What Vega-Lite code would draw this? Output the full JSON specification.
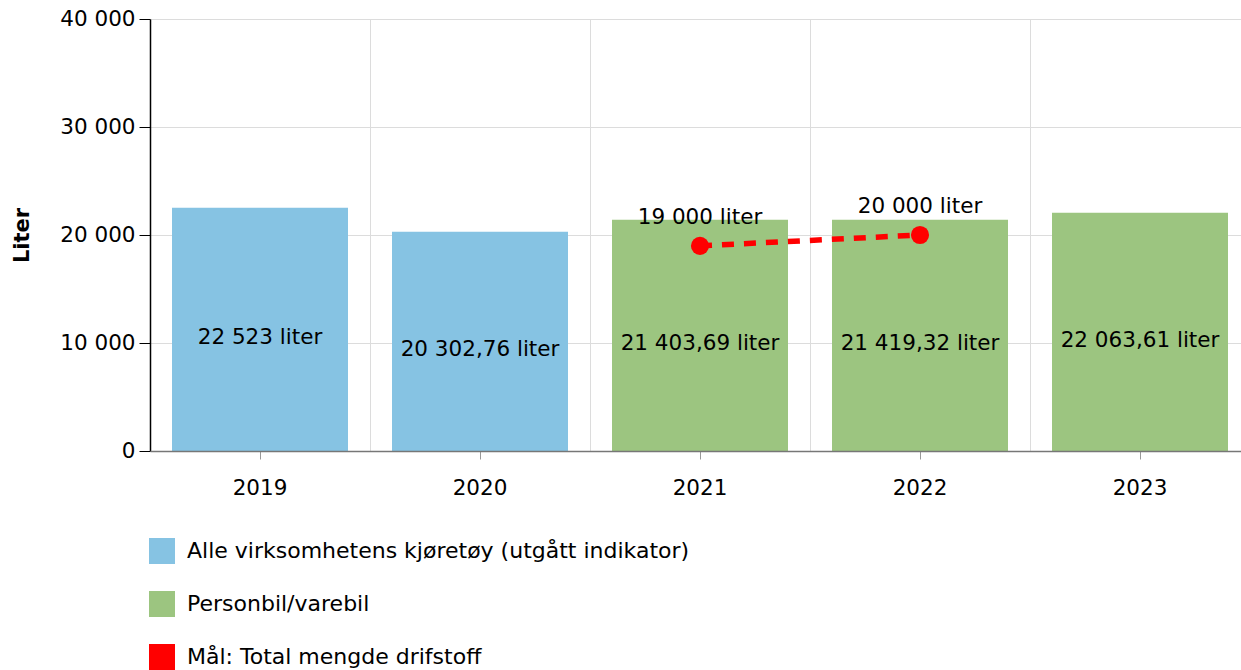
{
  "$schema": "https://vega.github.io/schema/vega-lite/v6.json",
  "autosize": {"type": "none"},
  "padding": {"left": 150, "top": 19, "right": 0, "bottom": 219},
  "width": 1091,
  "height": 432,
  "background": "white",
  "config": {
    "font": "DejaVu Sans",
    "view": {"stroke": null},
    "axis": {"labelFont": "DejaVu Sans", "titleFont": "DejaVu Sans"},
    "legend": {"labelFont": "DejaVu Sans"}
  },
  "datasets": {
    "bars": [
      {"year": "2019", "value": 22523, "series": "Alle virksomhetens kjøretøy (utgått indikator)", "label": "22 523 liter"},
      {"year": "2020", "value": 20302.76, "series": "Alle virksomhetens kjøretøy (utgått indikator)", "label": "20 302,76 liter"},
      {"year": "2021", "value": 21403.69, "series": "Personbil/varebil", "label": "21 403,69 liter"},
      {"year": "2022", "value": 21419.32, "series": "Personbil/varebil", "label": "21 419,32 liter"},
      {"year": "2023", "value": 22063.61, "series": "Personbil/varebil", "label": "22 063,61 liter"}
    ],
    "targets": [
      {"year": "2021", "value": 19000, "series": "Mål: Total mengde drifstoff", "label": "19 000 liter"},
      {"year": "2022", "value": 20000, "series": "Mål: Total mengde drifstoff", "label": "20 000 liter"}
    ]
  },
  "resolve": {"axis": {"x": "independent"}},
  "layer": [
    {
      "data": {"name": "bars"},
      "mark": {"type": "bar"},
      "encoding": {
        "x": {
          "field": "year", "type": "ordinal",
          "scale": {"domain": ["2019", "2020", "2021", "2022", "2023"], "range": [0, 1100], "paddingInner": 0.2, "paddingOuter": 0.1},
          "axis": {"orient": "bottom", "grid": true, "bandPosition": -0.125, "labels": false, "ticks": false, "domain": false, "title": null, "gridColor": "#dcdcdc", "gridWidth": 1, "zindex": 0}
        },
        "y": {
          "field": "value", "type": "quantitative",
          "scale": {"domain": [0, 40000], "nice": false},
          "axis": {
            "values": [0, 10000, 20000, 30000, 40000],
            "labelExpr": "replace(format(datum.value, ','), ',', ' ')",
            "title": "Liter", "titleFontSize": 21, "titleFontWeight": "bold", "titleColor": "black", "titlePadding": 27,
            "labelFontSize": 21.5, "labelColor": "black", "labelPadding": 4,
            "tickSize": 11, "tickColor": "black", "domainColor": "black", "domainWidth": 1.5,
            "grid": true, "gridColor": "#dcdcdc", "zindex": 0
          }
        },
        "color": {
          "field": "series", "type": "nominal",
          "scale": {
            "domain": ["Alle virksomhetens kjøretøy (utgått indikator)", "Personbil/varebil", "Mål: Total mengde drifstoff"],
            "range": ["#86c3e3", "#9cc580", "#ff0000"]
          },
          "legend": {
            "orient": "none", "legendX": -1, "legendY": 519, "direction": "vertical",
            "title": null, "symbolType": "square", "symbolSize": 676, "symbolStrokeWidth": 0,
            "symbolOpacity": 1, "labelFontSize": 22, "labelColor": "black", "labelOffset": 12,
            "rowPadding": 27, "padding": 0, "labelLimit": 800
          }
        }
      }
    },
    {
      "data": {"name": "bars"},
      "transform": [{"calculate": "datum.value / 2", "as": "mid"}],
      "mark": {"type": "text", "fontSize": 21.5, "color": "black", "baseline": "middle", "dy": 9},
      "encoding": {
        "x": {
          "field": "year", "type": "ordinal",
          "axis": {"orient": "bottom", "title": null, "labelFontSize": 21.5, "labelColor": "black", "labelAngle": 0, "labelPadding": 18, "tickSize": 8, "tickColor": "#999999", "domainColor": "#777777", "domainWidth": 1.5, "grid": false, "zindex": 1}
        },
        "y": {"field": "mid", "type": "quantitative"},
        "text": {"field": "label"}
      }
    },
    {
      "data": {"name": "targets"},
      "mark": {"type": "line", "strokeWidth": 5.5, "strokeDash": [12, 10]},
      "encoding": {
        "x": {"field": "year", "type": "ordinal", "axis": null},
        "y": {"field": "value", "type": "quantitative"},
        "color": {"field": "series", "type": "nominal"}
      }
    },
    {
      "data": {"name": "targets"},
      "mark": {"type": "circle", "size": 330, "opacity": 1},
      "encoding": {
        "x": {"field": "year", "type": "ordinal", "axis": null},
        "y": {"field": "value", "type": "quantitative"},
        "color": {"field": "series", "type": "nominal"}
      }
    },
    {
      "data": {"name": "targets"},
      "mark": {"type": "text", "fontSize": 21.5, "color": "black", "baseline": "middle", "dy": -28},
      "encoding": {
        "x": {"field": "year", "type": "ordinal", "axis": null},
        "y": {"field": "value", "type": "quantitative"},
        "text": {"field": "label"}
      }
    }
  ]
}
